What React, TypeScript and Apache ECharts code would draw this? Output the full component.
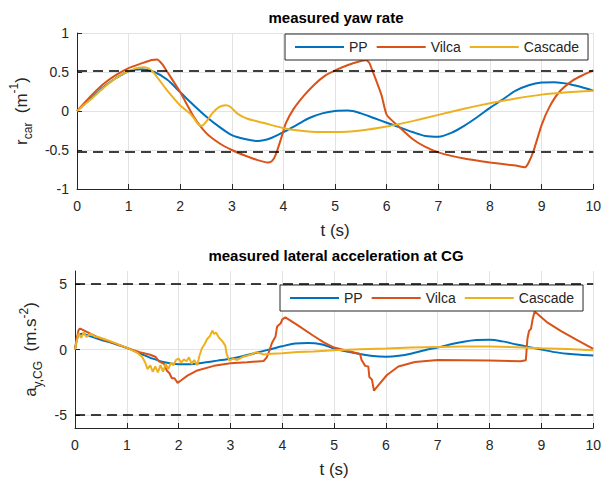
import React, { useEffect, useRef } from "react";
import * as echarts from "echarts";

// ---------- data ----------
const seriesNames = ["PP", "Vilca", "Cascade"];
const xTicks = [0, 1, 2, 3, 4, 5, 6, 7, 8, 9, 10];
const yawTicks = [-1, -0.5, 0, 0.5, 1];
const accTicks = [-5, 0, 5];
const yawLimits = [0.52, -0.52];
const accLimits = [5, -5];

// measured yaw rate
const ppYawT = [0, 0.25, 0.5, 0.75, 1, 1.25, 1.5, 1.75, 2, 2.25, 2.5, 2.75, 3, 3.25, 3.5, 3.75, 4, 4.25, 4.5, 4.75, 5, 5.25, 5.5, 5.75, 6, 6.25, 6.5, 6.75, 7, 7.25, 7.5, 7.75, 8, 8.25, 8.5, 8.75, 9, 9.25, 9.5, 9.75, 10];
const ppYawV = [0, 0.15, 0.3, 0.42, 0.51, 0.535, 0.5, 0.4, 0.24, 0.08, -0.07, -0.2, -0.31, -0.36, -0.385, -0.35, -0.27, -0.18, -0.09, -0.03, 0, 0.005, -0.03, -0.09, -0.15, -0.21, -0.27, -0.32, -0.33, -0.28, -0.19, -0.08, 0.04, 0.15, 0.26, 0.33, 0.365, 0.37, 0.35, 0.31, 0.26];

const vilcaYawT = [0, 0.25, 0.5, 0.75, 1.0, 1.25, 1.45, 1.55, 1.65, 1.75, 2.0, 2.25, 2.5, 2.75, 3.0, 3.25, 3.5, 3.7, 3.78, 3.85, 3.95, 4.05, 4.2, 4.4, 4.6, 4.8, 5.0, 5.25, 5.5, 5.6, 5.66, 5.75, 5.9, 6.0, 6.2, 6.5, 6.75, 7.0, 7.5, 8.0, 8.5, 8.68, 8.75, 8.85, 9.0, 9.15, 9.35, 9.6, 9.8, 10.0];
const vilcaYawV = [0, 0.18, 0.34, 0.46, 0.55, 0.61, 0.655, 0.66, 0.6, 0.5, 0.24, -0.06, -0.28, -0.41, -0.5, -0.57, -0.63, -0.66, -0.64, -0.56, -0.36, -0.15, 0.03, 0.2, 0.34, 0.45, 0.52, 0.59, 0.64, 0.65, 0.62, 0.47, 0.2, -0.05, -0.18, -0.36, -0.46, -0.53, -0.61, -0.66, -0.7, -0.72, -0.66, -0.5, -0.18, 0.05, 0.25, 0.39, 0.46, 0.52];

const cascadeYawT = [0, 0.25, 0.5, 0.75, 1.0, 1.15, 1.3, 1.4, 1.5, 1.75, 2.0, 2.2, 2.35, 2.42, 2.5, 2.62, 2.75, 2.88, 2.97, 3.1, 3.3, 3.6, 4.0, 4.3, 4.7, 5.0, 5.5, 6.0, 6.5, 7.0, 7.5, 8.0, 8.5, 9.0, 9.5, 10.0];
const cascadeYawV = [0, 0.14, 0.29, 0.42, 0.51, 0.55, 0.56, 0.54, 0.48, 0.26, 0.07, -0.04, -0.17, -0.19, -0.14, -0.03, 0.05, 0.075, 0.055, -0.03, -0.1, -0.15, -0.22, -0.25, -0.27, -0.27, -0.25, -0.2, -0.13, -0.05, 0.03, 0.1, 0.16, 0.21, 0.24, 0.26];

// measured lateral acceleration at CG
const ppAccT = [0, 0.04, 0.08, 0.15, 0.3, 0.5, 0.75, 1.0, 1.25, 1.5, 1.75, 2.0, 2.25, 2.5, 2.75, 3.0, 3.25, 3.5, 3.75, 4.0, 4.25, 4.5, 4.75, 5.0, 5.25, 5.5, 5.75, 6.0, 6.25, 6.5, 6.75, 7.0, 7.25, 7.5, 7.75, 8.0, 8.25, 8.5, 8.75, 9.0, 9.25, 9.5, 9.75, 10.0];
const ppAccV = [0, 0.8, 1.15, 1.2, 1.0, 0.75, 0.45, 0.12, -0.3, -0.7, -1.0, -1.12, -1.12, -1.0, -0.85, -0.7, -0.5, -0.25, 0.0, 0.25, 0.45, 0.5, 0.4, 0.08, -0.15, -0.35, -0.5, -0.55, -0.48, -0.3, -0.05, 0.15, 0.4, 0.6, 0.72, 0.75, 0.62, 0.4, 0.2, 0.0, -0.2, -0.32, -0.4, -0.45];

const vilcaAccT = [0, 0.03, 0.07, 0.1, 0.2, 0.45, 0.75, 1.0, 1.25, 1.45, 1.55, 1.62, 1.72, 1.77, 1.82, 1.87, 1.92, 1.98, 2.05, 2.17, 2.36, 2.68, 3.0, 3.32, 3.64, 3.7, 3.75, 3.8, 3.87, 3.9, 3.97, 4.0, 4.06, 4.28, 4.6, 4.8, 5.0, 5.25, 5.5, 5.53, 5.6, 5.66, 5.68, 5.73, 5.77, 5.86, 6.02, 6.24, 6.56, 7.0, 7.5, 8.0, 8.6, 8.7, 8.73, 8.76, 8.8, 8.83, 8.87, 9.12, 9.38, 9.7, 10.0];
const vilcaAccV = [0, 0.8, 1.5, 1.6, 1.4, 0.9, 0.5, 0.12, -0.2, -0.4, -0.55, -0.9, -1.1, -1.6, -1.8, -2.2, -2.2, -2.55, -2.35, -2.0, -1.6, -1.25, -1.05, -0.98, -0.88, -0.6, -0.1, 0.5, 1.0, 1.75, 2.0, 2.3, 2.45, 1.9, 1.05, 0.55, 0.15, -0.1, -0.35, -0.8, -1.25, -1.3, -2.1, -2.3, -3.15, -2.7, -1.95, -1.3, -0.95, -0.8, -0.82, -0.85, -0.9, -0.82, 0.8, 1.4, 1.6, 2.3, 2.9, 2.05, 1.4, 0.7, 0.05];

const cascadeAccT = [0, 0.03, 0.07, 0.12, 0.17, 0.22, 0.3, 0.38, 0.45, 0.6, 0.8, 1.0, 1.15, 1.22, 1.3, 1.35, 1.4, 1.45, 1.5, 1.55, 1.6, 1.65, 1.7, 1.75, 1.8, 1.85, 1.9, 1.95, 2.0, 2.05, 2.1, 2.15, 2.2, 2.25, 2.3, 2.36, 2.4, 2.45, 2.5, 2.55, 2.6, 2.65, 2.68, 2.72, 2.78, 2.85, 2.9, 2.93, 2.98, 3.05, 3.13, 3.25, 3.39, 3.5, 3.58, 3.64, 3.8, 4.0, 4.3, 4.6, 5.0, 5.5, 6.0, 6.5, 7.0, 7.5, 8.0, 8.5, 9.0, 9.5, 10.0];
const cascadeAccV = [0, 0.6, 1.25, 0.9, 1.3, 0.95, 1.2, 1.0, 0.95, 0.75, 0.45, 0.12, -0.15, -0.3, -0.6, -0.95, -1.5, -1.2, -1.7, -1.3, -1.75, -1.2, -1.7, -1.1, -1.5, -1.0, -1.2, -0.8, -0.7, -1.0, -0.75, -0.9, -0.6, -1.1, -0.8, -1.2, -0.5, 0.1, 0.4, 0.8, 1.0, 1.45, 1.2, 1.3, 0.9, 0.6, 0.3, -0.4, -0.85, -0.7, -0.8, -0.55, -0.4, -0.2, -0.3, -0.38, -0.32, -0.28, -0.2, -0.15, -0.05, 0.02, 0.08, 0.15, 0.2, 0.22, 0.22, 0.18, 0.1, 0.03, -0.05];

// ---------- styling ----------
const FONT = "'Liberation Sans', Arial, Helvetica, sans-serif";
const AX = "#262626";
const GRIDC = "#e3e3e3";
const COLORS = ["#0072BD", "#D95319", "#EDB120"];

const zip = (t: number[], v: number[]) => t.map((x, i) => [x, v[i]]);

export default function App() {
  const ref = useRef<HTMLDivElement>(null);

  useEffect(() => {
    if (!ref.current) return;
    const chart = echarts.init(ref.current, undefined, { renderer: "svg" });

    const xAxisBase = (gi: number) => ({
      type: "value",
      gridIndex: gi,
      min: 0,
      max: 10,
      interval: 1,
      name: "t (s)",
      nameLocation: "middle",
      nameGap: 33,
      nameTextStyle: { fontFamily: FONT, fontSize: 17, color: AX },
      axisLine: { show: true, onZero: false, lineStyle: { color: AX, width: 1 } },
      axisTick: { show: true, inside: true, length: 5, lineStyle: { color: AX } },
      axisLabel: {
        fontFamily: FONT,
        fontSize: 14,
        color: AX,
        margin: 10,
        customValues: xTicks,
      },
      splitLine: { show: true, lineStyle: { color: GRIDC, width: 1 } },
    });

    const rich = {
      a: { fontFamily: FONT, fontSize: 17, color: AX, lineHeight: 26 },
      sub: { fontFamily: FONT, fontSize: 12, color: AX, lineHeight: 12, verticalAlign: "bottom" },
      sup: { fontFamily: FONT, fontSize: 12, color: AX, lineHeight: 12, verticalAlign: "top" },
    };

    const limitLine = (vals: number[]) => ({
      silent: true,
      symbol: ["none", "none"],
      label: { show: false },
      lineStyle: { type: [10, 6], color: "#000", width: 1.5 },
      data: vals.map((v) => ({ yAxis: v })),
    });

    const lineSeries = (name: string, idx: number, data: number[][], gi: number, smooth: number | boolean, mark?: any) => ({
      type: "line",
      name,
      xAxisIndex: gi,
      yAxisIndex: gi,
      data,
      showSymbol: false,
      symbol: "none",
      smooth,
      color: COLORS[idx],
      lineStyle: { color: COLORS[idx], width: 2 },
      ...(mark ? { markLine: mark } : {}),
    });

    const legendBase = (left: number, top: number) => ({
      data: seriesNames,
      left,
      top,
      orient: "horizontal",
      icon: "rect",
      itemWidth: 49,
      itemHeight: 2,
      itemGap: 9,
      padding: [6, 9, 6, 10],
      borderColor: AX,
      borderWidth: 1,
      backgroundColor: "#fff",
      selectedMode: false,
      textStyle: { fontFamily: FONT, fontSize: 14, color: AX },
    });

    chart.setOption({
      animation: false,
      backgroundColor: "#fff",
      title: [
        {
          text: "measured yaw rate",
          left: 336,
          top: 10,
          textAlign: "center",
          padding: 0,
          textStyle: { fontFamily: FONT, fontSize: 15, fontWeight: "bold", color: "#000" },
        },
        {
          text: "measured lateral acceleration at CG",
          left: 336,
          top: 248,
          textAlign: "center",
          padding: 0,
          textStyle: { fontFamily: FONT, fontSize: 15, fontWeight: "bold", color: "#000" },
        },
      ],
      legend: [legendBase(285, 34), legendBase(280, 285)],
      grid: [
        { left: 75, top: 33, width: 521, height: 156 },
        { left: 75, top: 271, width: 521, height: 157 },
      ],
      xAxis: [xAxisBase(0), xAxisBase(1)],
      yAxis: [
        {
          type: "value",
          gridIndex: 0,
          min: -1,
          max: 1,
          interval: 0.5,
          name: "{a|r}{sub|car}{a|  (m}{sup|-1}{a|)}",
          nameLocation: "middle",
          nameGap: 40,
          nameRotate: 90,
          nameTextStyle: { fontFamily: FONT, fontSize: 17, color: AX, rich },
          axisLine: { show: true, onZero: false, lineStyle: { color: AX, width: 1 } },
          axisTick: { show: true, inside: true, length: 5, lineStyle: { color: AX } },
          axisLabel: {
            fontFamily: FONT,
            fontSize: 14,
            color: AX,
            margin: 8,
            customValues: yawTicks,
          },
          splitLine: { show: true, lineStyle: { color: GRIDC, width: 1 } },
        },
        {
          type: "value",
          gridIndex: 1,
          min: -6,
          max: 6,
          name: "{a|a}{sub|y,CG}{a|  (m.s}{sup|-2}{a|)}",
          nameLocation: "middle",
          nameGap: 29,
          nameRotate: 90,
          nameTextStyle: { fontFamily: FONT, fontSize: 17, color: AX, rich },
          axisLine: { show: true, onZero: false, lineStyle: { color: AX, width: 1 } },
          axisTick: { show: true, inside: true, length: 5, lineStyle: { color: AX }, customValues: accTicks },
          axisLabel: {
            fontFamily: FONT,
            fontSize: 14,
            color: AX,
            margin: 8,
            customValues: accTicks,
          },
          splitLine: { show: true, lineStyle: { color: GRIDC, width: 1 } },
        },
      ],
      series: [
        lineSeries("PP", 0, zip(ppYawT, ppYawV), 0, 0.3, limitLine(yawLimits)),
        lineSeries("Vilca", 1, zip(vilcaYawT, vilcaYawV), 0, 0.2),
        lineSeries("Cascade", 2, zip(cascadeYawT, cascadeYawV), 0, 0.2),
        lineSeries("PP", 0, zip(ppAccT, ppAccV), 1, 0.3, limitLine(accLimits)),
        lineSeries("Vilca", 1, zip(vilcaAccT, vilcaAccV), 1, false),
        lineSeries("Cascade", 2, zip(cascadeAccT, cascadeAccV), 1, false),
      ],
    });

    return () => chart.dispose();
  }, []);

  return <div ref={ref} style={{ width: 604, height: 483, position: "absolute", left: 0, top: 0 }} />;
}
